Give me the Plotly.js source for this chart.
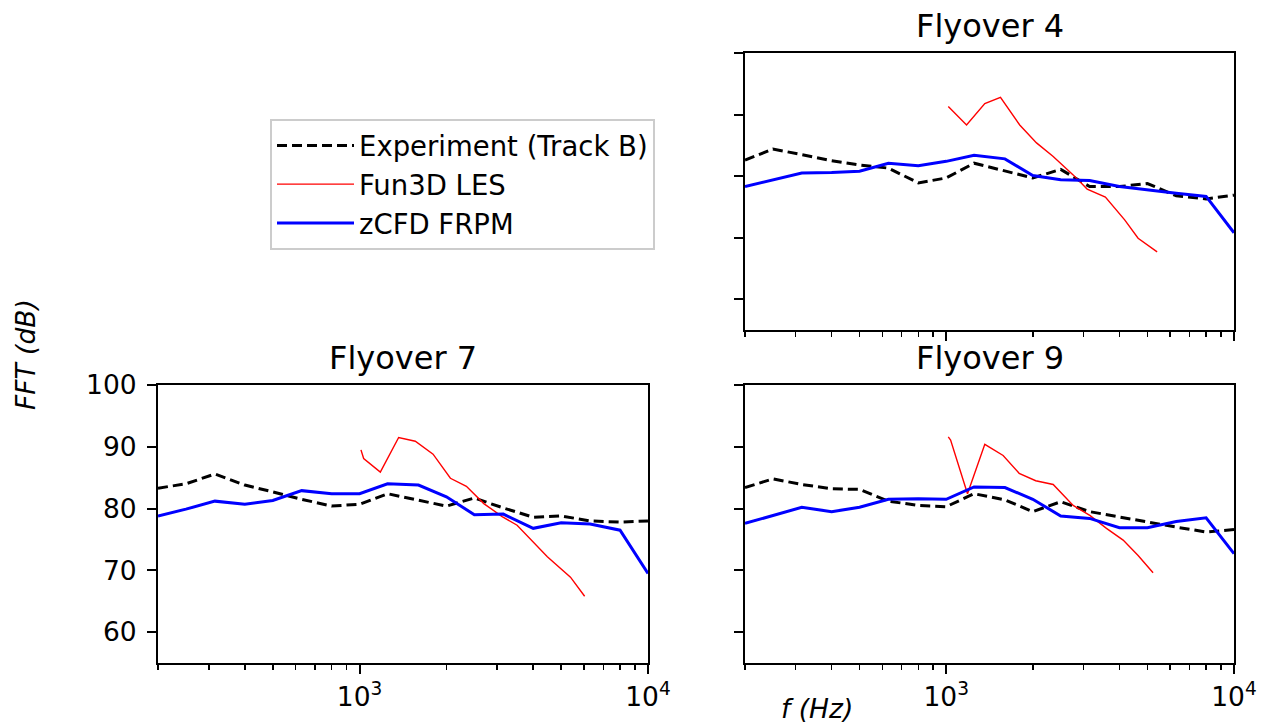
<!DOCTYPE html>
<html>
<head>
<meta charset="utf-8">
<script src="https://cdn.plot.ly/plotly-3.0.1.min.js"></script>
<style>html,body{margin:0;padding:0;background:#fff;}#chart{width:1265px;height:724px;}</style>
</head>
<body>
<div id="chart"></div>
<script>
// One-third octave band centre frequencies (Hz)
const freq = [200,250,315,400,500,630,800,1000,1250,1600,2000,2500,3150,4000,5000,6300,8000,10000];

// Flyover 4
const exp4  = [82.6,84.4,83.5,82.5,81.8,81.3,78.9,79.7,82.1,80.9,79.7,81.1,78.3,78.3,78.8,76.8,76.3,76.9];
const zcfd4 = [78.3,79.4,80.5,80.6,80.8,82.1,81.7,82.4,83.4,82.8,80.1,79.4,79.3,78.3,77.7,77.2,76.7,70.8];
const lesFreq4 = [1017,1177,1362,1544,1801,2060,2354,2762,3089,3574,4170,4643,5406];
const les4     = [91.3,88.3,91.8,92.8,88.3,85.4,83.2,80.2,77.9,76.6,72.9,69.9,67.7];

// Flyover 7
const exp7  = [83.3,84.0,85.6,83.8,82.7,81.5,80.4,80.7,82.4,81.3,80.4,81.7,80.1,78.6,78.8,78.0,77.8,78.0];
const zcfd7 = [78.8,79.9,81.2,80.7,81.3,82.9,82.4,82.4,84.0,83.8,81.9,79.0,79.1,76.8,77.7,77.5,76.5,69.5];
const lesFreq7 = [1011,1033,1180,1366,1560,1798,2065,2346,2696,3121,3517,4075,4477,5385,6030];
const les7     = [89.5,88.1,85.9,91.5,90.9,88.8,84.9,83.6,80.8,78.7,77.3,74.2,72.2,68.9,65.8];

// Flyover 9
const exp9  = [83.4,84.8,83.9,83.2,83.1,81.2,80.5,80.3,82.4,81.4,79.5,81.1,79.5,78.6,77.8,77.0,76.2,76.6];
const zcfd9 = [77.6,78.9,80.2,79.5,80.2,81.5,81.6,81.5,83.5,83.4,81.5,78.8,78.4,76.9,76.9,77.9,78.5,72.7];
const lesFreq9 = [1017,1036,1186,1362,1577,1793,2047,2354,2762,3155,3605,4119,4643,5234];
const les9     = [91.6,91.1,82.4,90.4,88.6,85.7,84.5,83.9,80.5,78.9,76.8,74.9,72.4,69.6];

// Tick labels
const xMajorVals = [1000, 10000];
const xMajorText = ['10<sup>3</sup>', '10<sup>4</sup>'];
const xMinorVals = [200,300,400,500,600,700,800,900,2000,3000,4000,5000,6000,7000,8000,9000];
const yTickVals = [60,70,80,90,100];
const titles = ['Flyover 4','Flyover 7','Flyover 9'];
const seriesNames = ['Experiment (Track B)','Fun3D LES','zCFD FRPM'];

const FONT = 'DejaVu Sans, sans-serif';
const styles = [
  {color:'black', width:3, dash:'10px,5px'},
  {color:'red', width:1.4},
  {color:'blue', width:3}
];

function traces(xa, ya, expV, lesF, lesV, zV, show) {
  return [
    {x:freq, y:expV, xaxis:xa, yaxis:ya, mode:'lines', name:seriesNames[0], legendgroup:'a', showlegend:show, line:styles[0]},
    {x:lesF, y:lesV, xaxis:xa, yaxis:ya, mode:'lines', name:seriesNames[1], legendgroup:'b', showlegend:show, line:styles[1]},
    {x:freq, y:zV,   xaxis:xa, yaxis:ya, mode:'lines', name:seriesNames[2], legendgroup:'c', showlegend:show, line:styles[2]}
  ];
}

const data = [].concat(
  traces('x3','y3', exp4, lesFreq4, les4, zcfd4, true),
  traces('x','y',   exp7, lesFreq7, les7, zcfd7, false),
  traces('x2','y2', exp9, lesFreq9, les9, zcfd9, false)
);

const W = 1265, H = 724;
const domL = [158/W, 648/W], domR = [745/W, 1234/W];
const domB = [(H-663)/H, (H-385)/H], domT = [(H-330)/H, (H-53)/H];
const TICK = 26.5;

function xax(dom, anchor, labels) {
  return {
    type:'log', domain:dom, anchor:anchor, range:[Math.log10(200), 4],
    showline:true, mirror:true, linecolor:'black', linewidth:2,
    showgrid:false, zeroline:false,
    ticks:'outside', ticklen:9, tickwidth:2, tickcolor:'black',
    tickmode:'array', tickvals:xMajorVals, ticktext:xMajorText,
    showticklabels:labels,
    tickfont:{family:FONT, size:TICK, color:'black'},
    minor:{ticks:'outside', ticklen:5, tickwidth:1.5, tickcolor:'black', tickmode:'array', tickvals:xMinorVals, showgrid:false}
  };
}
function yax(dom, anchor, labels) {
  return {
    domain:dom, anchor:anchor, range:[55,100],
    showline:true, mirror:true, linecolor:'black', linewidth:2,
    showgrid:false, zeroline:false,
    ticks:'outside', ticklen:9, tickwidth:2, tickcolor:'black',
    tickmode:'array', tickvals:yTickVals,
    showticklabels:labels, ticklabelstandoff:5,
    tickfont:{family:FONT, size:TICK, color:'black'}
  };
}

const layout = {
  width:W, height:H,
  margin:{l:0, r:0, t:0, b:0},
  paper_bgcolor:'white', plot_bgcolor:'white',
  font:{family:FONT, color:'black'},
  xaxis: xax(domL, 'y', true),
  yaxis: yax(domB, 'x', true),
  xaxis2: xax(domR, 'y2', true),
  yaxis2: yax(domB, 'x2', false),
  xaxis3: xax(domR, 'y3', false),
  yaxis3: yax(domT, 'x3', false),
  showlegend:true,
  legend:{
    x:270/W, y:(H-119)/H, xanchor:'left', yanchor:'top',
    bgcolor:'white', bordercolor:'#cccccc', borderwidth:2,
    font:{family:FONT, size:27.5, color:'black'},
    traceorder:'normal', itemwidth:77, tracegroupgap:0
  },
  annotations:[
    {text:titles[0], xref:'paper', yref:'paper', x:(domR[0]+domR[1])/2, y:domT[1], xanchor:'center', yanchor:'bottom', yshift:6, showarrow:false, font:{family:FONT, size:32}},
    {text:titles[1], xref:'paper', yref:'paper', x:(domL[0]+domL[1])/2, y:domB[1], xanchor:'center', yanchor:'bottom', yshift:6, showarrow:false, font:{family:FONT, size:32}},
    {text:titles[2], xref:'paper', yref:'paper', x:(domR[0]+domR[1])/2, y:domB[1], xanchor:'center', yanchor:'bottom', yshift:6, showarrow:false, font:{family:FONT, size:32}},
    {text:'<i>FFT (dB)</i>', xref:'paper', yref:'paper', x:25/W, y:(H-355)/H, xanchor:'center', yanchor:'middle', textangle:-90, showarrow:false, font:{family:FONT, size:26.5}},
    {text:'<i>f (Hz)</i>', xref:'paper', yref:'paper', x:817/W, y:(H-708)/H, xanchor:'center', yanchor:'middle', showarrow:false, font:{family:FONT, size:26.5}}
  ]
};

Plotly.newPlot('chart', data, layout, {displayModeBar:false, staticPlot:true});
</script>
</body>
</html>
